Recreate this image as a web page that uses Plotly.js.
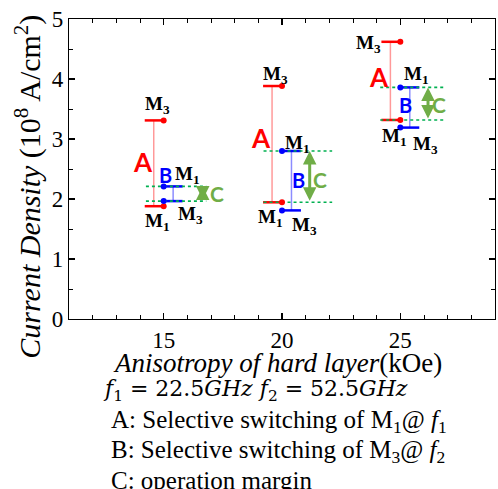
<!DOCTYPE html>
<html>
<head>
<meta charset="utf-8">
<script src="https://cdn.plot.ly/plotly-3.0.1.min.js"></script>
<style>
  html, body { margin: 0; padding: 0; background: #fff; }
  #chart { width: 498px; height: 489px; }
</style>
</head>
<body>
<div id="chart"></div>
<script>
// ---------------- DATA ----------------
const groups = [15, 20, 25];                 // anisotropy of hard layer (kOe)
const aLowerM1 = [1.88, 1.945, 3.317];       // A: lower bound (M1)
const aUpperM3 = [3.31, 3.883, 4.62];        // A: upper bound (M3)
const bUpperM1 = [2.21, 2.80, 3.86];         // B: upper bound (M1)
const bLowerM3 = [1.965, 1.81, 3.19];        // B: lower bound (M3)
const xTickVals = [15, 20, 25];
const xTickLabels = ['15', '20', '25'];
const yTickVals = [0, 1, 2, 3, 4, 5];
const yTickLabels = ['0', '1', '2', '3', '4', '5'];

// margin C = overlap of A and B
const cTop = groups.map((g, i) => Math.min(aUpperM3[i], bUpperM1[i]));
const cBottom = groups.map((g, i) => Math.max(aLowerM1[i], bLowerM3[i]));

// ---------------- GEOMETRY / STYLE ----------------
const geo = {
  redCap: -0.8, redLine: -0.42, blueCap: 0.8, blueLine: 0.4,
  greenLeft: [-0.75, -0.78, -0.85], greenRight: [1.8, 2.12, 1.9],
  arrowX: [1.65, 1.17, 1.17]
};
const RED = '#ff0000', BLUE = '#0000ff', GREEN_DOT = '#00b050', GREEN = '#70ad47';
const serif = '"Liberation Serif", "Times New Roman", serif';
const mathSerif = '"DejaVu Serif", serif';
const sans = 'Lato, "Open Sans", sans-serif';

// label pixel offsets [dx, dy(screen, down positive)]
const off = {
  m3Red: [[-6, -15], [-7, -11], [-32, 2]],
  m1Red: [[-6, 16], [-12, 16], [-6, 17]],
  A: [[-21, -1.5], [-21, -6], [-21, -4]],
  m1Blue: [[24, -11], [15, -7], [16, -12]],
  m3Blue: [[27, 14], [22, 16], [25, 17]],
  B: [[2, -19], [16.6, -0.6], [5, -2.5]],
  C: [[53.6, -0.5], [38, 3], [39, 1]]
};

// ---------------- TRACES ----------------
function segs(builder) {
  const xs = [], ys = [];
  groups.forEach((g, i) => {
    builder(g, i).forEach(s => { xs.push(s[0], s[2], null); ys.push(s[1], s[3], null); });
  });
  return { x: xs, y: ys };
}

const redVert = segs((g, i) => [[g + geo.redLine, aLowerM1[i], g + geo.redLine, aUpperM3[i]]]);
const blueVert = segs((g, i) => [[g + geo.blueLine, bLowerM3[i], g + geo.blueLine, bUpperM1[i]]]);
const redCaps = segs((g, i) => [[g + geo.redCap, aLowerM1[i], g, aLowerM1[i]], [g + geo.redCap, aUpperM3[i], g, aUpperM3[i]]]);
const blueCaps = segs((g, i) => [[g, bLowerM3[i], g + geo.blueCap, bLowerM3[i]], [g, bUpperM1[i], g + geo.blueCap, bUpperM1[i]]]);
const greenLines = segs((g, i) => [[g + geo.greenLeft[i], cTop[i], g + geo.greenRight[i], cTop[i]], [g + geo.greenLeft[i], cBottom[i], g + geo.greenRight[i], cBottom[i]]]);

const traces = [
  { type: 'scatter', mode: 'lines', x: redVert.x, y: redVert.y, line: { color: 'rgba(255,0,0,0.4)', width: 1.5 }, hoverinfo: 'skip', showlegend: false },
  { type: 'scatter', mode: 'lines', x: blueVert.x, y: blueVert.y, line: { color: 'rgba(0,0,255,0.45)', width: 1.5 }, hoverinfo: 'skip', showlegend: false },
  { type: 'scatter', mode: 'lines', x: redCaps.x, y: redCaps.y, line: { color: RED, width: 2.5 }, hoverinfo: 'skip', showlegend: false },
  { type: 'scatter', mode: 'lines', x: blueCaps.x, y: blueCaps.y, line: { color: BLUE, width: 2.5 }, hoverinfo: 'skip', showlegend: false },
  { type: 'scatter', mode: 'lines', x: greenLines.x, y: greenLines.y, line: { color: GREEN_DOT, width: 1.6, dash: 'dot' }, hoverinfo: 'skip', showlegend: false },
  { type: 'scatter', mode: 'markers', x: groups.concat(groups), y: aLowerM1.concat(aUpperM3), marker: { color: RED, size: 6 }, showlegend: false },
  { type: 'scatter', mode: 'markers', x: groups.concat(groups), y: bLowerM3.concat(bUpperM1), marker: { color: BLUE, size: 6 }, showlegend: false }
];

// ---------------- ANNOTATIONS ----------------
const ann = [];
function lbl(x, y, d, text, font) {
  ann.push({ xref: 'x', yref: 'y', x: x, y: y, xshift: d[0], yshift: -d[1], text: text,
    showarrow: false, xanchor: 'center', yanchor: 'middle', font: font });
}
const mFont = { family: serif, size: 19, color: '#000' };
groups.forEach((g, i) => {
  lbl(g, aUpperM3[i], off.m3Red[i], '<b>M<sub>3</sub></b>', mFont);
  lbl(g, aLowerM1[i], off.m1Red[i], '<b>M<sub>1</sub></b>', mFont);
  lbl(g, bUpperM1[i], off.m1Blue[i], '<b>M<sub>1</sub></b>', mFont);
  lbl(g, bLowerM3[i], off.m3Blue[i], '<b>M<sub>3</sub></b>', mFont);
  lbl(g, (aUpperM3[i] + aLowerM1[i]) / 2, off.A[i], '<b>A</b>', { family: sans, size: 26, color: RED });
  lbl(g, (bUpperM1[i] + bLowerM3[i]) / 2, off.B[i], '<b>B</b>', { family: sans, size: 20, color: BLUE });
  lbl(g, (cTop[i] + cBottom[i]) / 2, off.C[i], '<b>C</b>', { family: sans, size: 21, color: GREEN });
  const ax = g + geo.arrowX[i];
  ann.push({ xref: 'x', yref: 'y', axref: 'x', ayref: 'y', x: ax, y: cTop[i], ax: ax, ay: cBottom[i],
    text: '', showarrow: true, arrowside: 'end+start', arrowhead: 2, arrowsize: 0.9, arrowwidth: 3, arrowcolor: GREEN });
});

// axis titles placed as annotations (matches reference placement)
ann.push({ xref: 'paper', yref: 'paper', x: -0.097, y: 0.44, textangle: -90, showarrow: false,
  xanchor: 'center', yanchor: 'middle',
  text: '<i>Current Density</i> (10<sup>8</sup> A/cm<sup>2</sup>)', font: { family: serif, size: 30, color: '#000' } });
ann.push({ xref: 'paper', yref: 'paper', x: 0.49, y: -0.145, showarrow: false,
  xanchor: 'center', yanchor: 'middle',
  text: '<i>Anisotropy of hard layer</i>(kOe)', font: { family: serif, size: 27, color: '#000' } });

const notes = [
  { y: -0.239, x: 0.074, text: '<i>f</i><sub>1</sub> = 22.5<i>GHz</i> <i>f</i><sub>2</sub> = 52.5<i>GHz</i>', font: mathSerif, size: 22 },
  { y: -0.342, x: 0.094, text: 'A: Selective switching of M<sub>1</sub>@ <i>f</i><sub>1</sub>', font: serif, size: 25 },
  { y: -0.442, x: 0.094, text: 'B: Selective switching of M<sub>3</sub>@ <i>f</i><sub>2</sub>', font: serif, size: 25 },
  { y: -0.537, x: 0.094, text: 'C: operation margin', font: serif, size: 25 }
];
notes.forEach(n => ann.push({ xref: 'paper', yref: 'paper', x: n.x, y: n.y, text: n.text, showarrow: false,
  xanchor: 'left', yanchor: 'middle', font: { family: n.font, size: n.size, color: '#000' } }));

// ---------------- LAYOUT ----------------
const axisCommon = {
  showline: true, linecolor: '#000', linewidth: 1.2, mirror: 'ticks',
  ticks: 'inside', ticklen: 6, tickwidth: 1.2, tickcolor: '#000',
  showgrid: false, zeroline: false, tickfont: { family: serif, size: 23, color: '#000' }
};
const layout = {
  width: 498, height: 489,
  margin: { l: 69, r: 3, t: 19, b: 170 },
  paper_bgcolor: '#fff', plot_bgcolor: '#fff',
  showlegend: false,
  xaxis: Object.assign({}, axisCommon, {
    range: [11, 29], tickmode: 'array', tickvals: xTickVals, ticktext: xTickLabels,
    minor: { ticks: 'inside', ticklen: 4, tickwidth: 1, tickcolor: '#000', dtick: 1, tick0: 11 }
  }),
  yaxis: Object.assign({}, axisCommon, {
    range: [0, 5], tickmode: 'array', tickvals: yTickVals, ticktext: yTickLabels,
    minor: { ticks: 'inside', ticklen: 4, tickwidth: 1, tickcolor: '#000', dtick: 0.5, tick0: 0 }
  }),
  annotations: ann
};

Plotly.newPlot('chart', traces, layout, { displayModeBar: false, staticPlot: true });
</script>
</body>
</html>
